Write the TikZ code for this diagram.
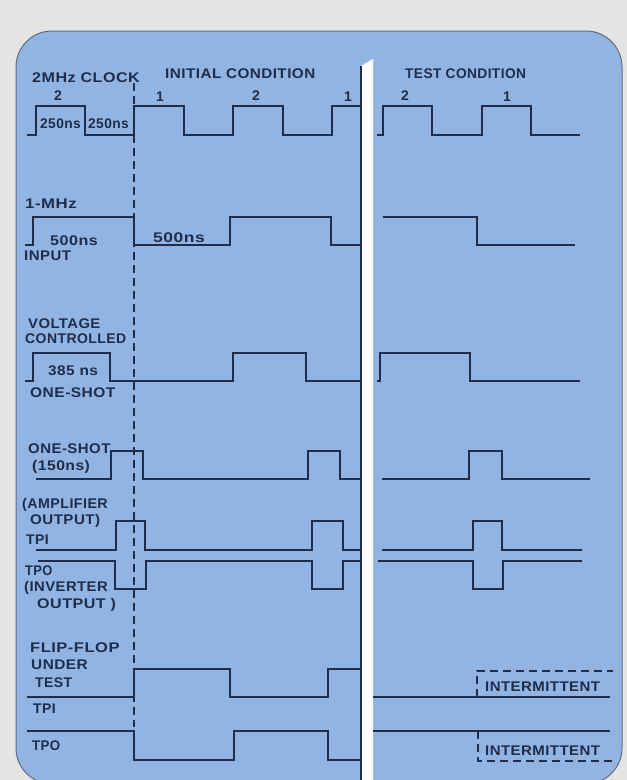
\documentclass[tikz,border=0pt]{standalone}
\usepackage{fontspec}
\usepackage{graphicx}
\newfontfamily\lblfam[LetterSpace=3]{Liberation Sans}
\newcommand\hs[2]{\scalebox{#1}[1]{#2}}
\definecolor{ink}{HTML}{1E2D4C}
\definecolor{panel}{HTML}{92B4E3}
\definecolor{outer}{HTML}{E4E4E2}
\tikzset{
  wave/.style={draw=ink, line width=1.7pt, line join=miter},
  lbl/.style={anchor=base west, inner sep=0pt, text=ink, font=\lblfam\bfseries\fontsize{14}{15}\selectfont},
  lblc/.style={lbl, anchor=base},
  dashwave/.style={draw=ink, line width=1.6pt, dash pattern=on 8pt off 5pt},
}
\begin{document}
\begin{tikzpicture}[x=1pt,y=-1pt]
\useasboundingbox (0,0) rectangle (627,780);
\clip (0,0) rectangle (627,780);
\fill[outer] (0,0) rectangle (627,780);
% panel
\filldraw[fill=panel, draw=ink!70, line width=1pt, rounded corners=36pt] (16,31) rectangle (622,784);
% separator bar
\fill[white] (361,66) -- (373,59) -- (373,781) -- (361,781) -- cycle;
\draw[ink, line width=1.2pt] (361,66) -- (361,781);
% dashed reference line
\draw[dashwave, line width=1.4pt] (134,83) -- (134,727);

% clock
\draw[wave] (27,135) -- (36,135) -- (36,106) -- (85,106) -- (85,135) -- (134,135) -- (134,106) -- (184,106) -- (184,135) -- (233,135) -- (233,106) -- (283,106) -- (283,135) -- (332,135) -- (332,106) -- (360,106);
\draw[wave] (377,135) -- (383,135) -- (383,106) -- (432,106) -- (432,135) -- (482,135) -- (482,106) -- (531,106) -- (531,135) -- (580,135);
% 1 MHz
\draw[wave] (25,245) -- (33,245) -- (33,217) -- (134,217) -- (134,245) -- (230,245) -- (230,217) -- (331,217) -- (331,245) -- (360,245);
\draw[wave] (383,217) -- (477,217) -- (477,245) -- (575,245);
% VCO
\draw[wave] (25,381) -- (33,381) -- (33,353) -- (110,353) -- (110,381) -- (233,381) -- (233,353) -- (306,353) -- (306,381) -- (360,381);
\draw[wave] (377,381) -- (380,381) -- (380,353) -- (470,353) -- (470,381) -- (580,381);
% one-shot 150
\draw[wave] (36,479) -- (111,479) -- (111,451) -- (143,451) -- (143,479) -- (308,479) -- (308,451) -- (340,451) -- (340,479) -- (360,479);
\draw[wave] (382,479) -- (469,479) -- (469,451) -- (502,451) -- (502,479) -- (590,479);
% amplifier TPI
\draw[wave] (36,550) -- (116,550) -- (116,521) -- (145,521) -- (145,550) -- (312,550) -- (312,521) -- (343,521) -- (343,550) -- (360,550);
\draw[wave] (382,550) -- (473,550) -- (473,521) -- (502,521) -- (502,550) -- (582,550);
% inverter TPO
\draw[wave] (38,561) -- (115,561) -- (115,589) -- (146,589) -- (146,561) -- (312,561) -- (312,589) -- (343,589) -- (343,561) -- (360,561);
\draw[wave] (378,561) -- (473,561) -- (473,589) -- (503,589) -- (503,561) -- (582,561);
% flip-flop TPI
\draw[wave] (27,697) -- (134,697) -- (134,669) -- (230,669) -- (230,697) -- (328,697) -- (328,669) -- (360,669);
\draw[wave] (373,697) -- (610,697);
\draw[dashwave] (477,697) -- (477,671) -- (613,671);
% flip-flop TPO
\draw[wave] (27,731) -- (134,731) -- (134,760) -- (234,760) -- (234,731) -- (328,731) -- (328,760) -- (360,760);
\draw[wave] (373,731) -- (610,731);
\draw[dashwave] (478,731) -- (478,761) -- (613,761);

% labels
\node[lbl] (tclk) at (32,82) {\hs{1.15}{2MHz CLOCK}};
\node[lbl] (tini) at (165,78) {\hs{1.09}{INITIAL CONDITION}};
\node[lbl] (ttest) at (405,78) {\hs{0.98}{TEST CONDITION}};
\node[lblc] (p1) at (58,100) {2};
\node[lblc] (p2) at (160,101) {1};
\node[lblc] (p3) at (256,100) {2};
\node[lblc] (p4) at (348,101) {1};
\node[lblc] (p5) at (405,100) {2};
\node[lblc] (p6) at (507,101) {1};
\node[lbl] (t250a) at (40,128) {\hs{0.98}{250ns}};
\node[lbl] (t250b) at (88,128) {\hs{0.98}{250ns}};
\node[lbl] (tmhz) at (25,208) {\hs{1.2}{1-MHz}};
\node[lbl] (t500a) at (50,245) {\hs{1.15}{500ns}};
\node[lbl] (tinp) at (24,260) {\hs{1.07}{INPUT}};
\node[lbl] (t500b) at (153,242) {\hs{1.25}{500ns}};
\node[lbl] (tvol) at (28,328) {\hs{1.06}{VOLTAGE}};
\node[lbl] (tcon) at (25,343) {CONTROLLED};
\node[lbl] (t385) at (48,375) {\hs{1.1}{385 ns}};
\node[lbl] (tos1) at (30,397) {\hs{1.11}{ONE-SHOT}};
\node[lbl] (tos2) at (28,453) {\hs{1.07}{ONE-SHOT}};
\node[lbl] (t150) at (32,470) {\hs{1.12}{(150ns)}};
\node[lbl] (tamp) at (22,508) {\hs{1.02}{(AMPLIFIER}};
\node[lbl] (tout1) at (30,524) {\hs{1.08}{OUTPUT)}};
\node[lbl] (ttpi1) at (26,544) {TPI};
\node[lbl] (ttpo1) at (25,575) {\hs{0.92}{TPO}};
\node[lbl] (tinv) at (24,591) {\hs{1.06}{(INVERTER}};
\node[lbl] (tout2) at (37,608) {\hs{1.15}{OUTPUT )}};
\node[lbl] (tff) at (30,652) {\hs{1.18}{FLIP-FLOP}};
\node[lbl] (tund) at (31,669) {\hs{1.1}{UNDER}};
\node[lbl] (ttst) at (35,687) {TEST};
\node[lbl] (ttpi2) at (33,713) {TPI};
\node[lbl] (ttpo2) at (32,750) {\hs{0.95}{TPO}};
\node[lbl] (tint1) at (485,691) {\hs{1.07}{INTERMITTENT}};
\node[lbl] (tint2) at (485,755) {\hs{1.07}{INTERMITTENT}};
\end{tikzpicture}
\end{document}
